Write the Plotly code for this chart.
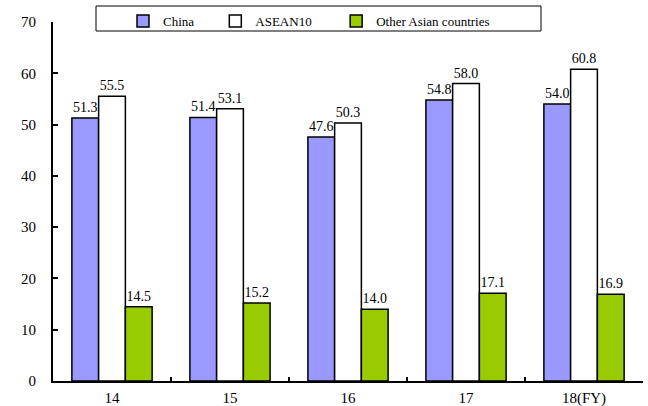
import plotly.graph_objects as go

categories = ["14", "15", "16", "17", "18(FY)"]
china = [51.3, 51.4, 47.6, 54.8, 54.0]
asean10 = [55.5, 53.1, 50.3, 58.0, 60.8]
other_asia = [14.5, 15.2, 14.0, 17.1, 16.9]

NB = "\u00a0"
series = [
    ("China" + NB * 5, china, "#9999FF"),
    ("ASEAN10" + NB * 6, asean10, "#FFFFFF"),
    ("Other Asian countries", other_asia, "#99CC00"),
]

font_family = "Liberation Serif, Times New Roman, serif"

fig = go.Figure()
for name, vals, color in series:
    fig.add_trace(go.Bar(
        x=categories, y=vals, name=name,
        marker=dict(color=color, line=dict(color="black", width=1.5)),
        text=[f"{v:.1f}" for v in vals], textposition="outside",
        textfont=dict(size=14, color="black", family=font_family),
        cliponaxis=False,
    ))

L, R, T, B = 53, 5, 22, 25
W, H = 648, 406
pw = W - L - R
ph = H - T - B

def px_x(x):
    return (x - L) / pw

def px_y(y):
    return (H - B - y) / ph

fig.update_layout(
    width=W, height=H,
    margin=dict(l=L, r=R, t=T, b=B, pad=0, autoexpand=False),
    paper_bgcolor="white", plot_bgcolor="white",
    barmode="group", bargap=0.32, bargroupgap=0,
    font=dict(family=font_family, color="black", size=14),
    showlegend=True,
    legend=dict(
        orientation="h", x=px_x(123), y=px_y(6), xanchor="left", yanchor="top",
        bgcolor="rgba(0,0,0,0)", borderwidth=0,
        font=dict(size=13, family=font_family),
    ),
    shapes=[dict(type="rect", xref="paper", yref="paper",
                 x0=px_x(96), x1=px_x(541), y0=px_y(31), y1=px_y(6),
                 line=dict(color="black", width=1), fillcolor="rgba(0,0,0,0)", layer="above")],
    xaxis=dict(
        showline=True, linecolor="black", linewidth=2, automargin=False,
        ticks="inside", tickson="boundaries", ticklen=4, tickcolor="black", tickwidth=1.5,
        tickfont=dict(size=15, family=font_family), showgrid=False,
        ticklabelstandoff=2,
    ),
    yaxis=dict(
        range=[0, 70], dtick=10, showline=True, linecolor="black", linewidth=2, automargin=False,
        ticks="inside", ticklen=5, tickcolor="black", tickwidth=1.5,
        tickfont=dict(size=15, family=font_family), showgrid=False, zeroline=False,
        ticklabelstandoff=12,
    ),
)

fig.write_html("out.html")
